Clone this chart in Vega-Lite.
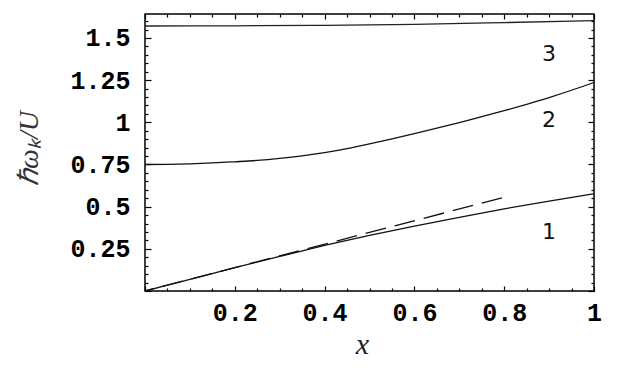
{
  "$schema": "https://vega.github.io/schema/vega-lite/v6.json",
  "width": 449,
  "height": 277,
  "autosize": {"type": "none"},
  "padding": {"left": 145, "top": 14, "right": 28, "bottom": 79},
  "background": "white",
  "config": {
    "view": {"stroke": "black", "strokeWidth": 1.5},
    "axis": {"grid": false, "domain": false, "tickColor": "black", "tickWidth": 1.2, "title": null}
  },
  "datasets": {
    "curves": [
      {"x": 0, "y": 0, "mode": "1"},
      {"x": 0.1, "y": 0.069, "mode": "1"},
      {"x": 0.2, "y": 0.138, "mode": "1"},
      {"x": 0.3, "y": 0.205, "mode": "1"},
      {"x": 0.4, "y": 0.27, "mode": "1"},
      {"x": 0.5, "y": 0.33, "mode": "1"},
      {"x": 0.6, "y": 0.385, "mode": "1"},
      {"x": 0.7, "y": 0.437, "mode": "1"},
      {"x": 0.8, "y": 0.487, "mode": "1"},
      {"x": 0.9, "y": 0.533, "mode": "1"},
      {"x": 1.0, "y": 0.576, "mode": "1"},
      {"x": 0, "y": 0.75, "mode": "2"},
      {"x": 0.05, "y": 0.751, "mode": "2"},
      {"x": 0.1, "y": 0.754, "mode": "2"},
      {"x": 0.15, "y": 0.759, "mode": "2"},
      {"x": 0.2, "y": 0.766, "mode": "2"},
      {"x": 0.25, "y": 0.774, "mode": "2"},
      {"x": 0.3, "y": 0.786, "mode": "2"},
      {"x": 0.35, "y": 0.801, "mode": "2"},
      {"x": 0.4, "y": 0.82, "mode": "2"},
      {"x": 0.45, "y": 0.844, "mode": "2"},
      {"x": 0.5, "y": 0.872, "mode": "2"},
      {"x": 0.55, "y": 0.902, "mode": "2"},
      {"x": 0.6, "y": 0.933, "mode": "2"},
      {"x": 0.65, "y": 0.965, "mode": "2"},
      {"x": 0.7, "y": 0.998, "mode": "2"},
      {"x": 0.75, "y": 1.033, "mode": "2"},
      {"x": 0.8, "y": 1.069, "mode": "2"},
      {"x": 0.85, "y": 1.107, "mode": "2"},
      {"x": 0.9, "y": 1.147, "mode": "2"},
      {"x": 0.95, "y": 1.19, "mode": "2"},
      {"x": 1.0, "y": 1.236, "mode": "2"},
      {"x": 0, "y": 1.571, "mode": "3"},
      {"x": 0.2, "y": 1.572, "mode": "3"},
      {"x": 0.4, "y": 1.575, "mode": "3"},
      {"x": 0.6, "y": 1.581, "mode": "3"},
      {"x": 0.8, "y": 1.591, "mode": "3"},
      {"x": 1.0, "y": 1.603, "mode": "3"}
    ],
    "asym": [
      {"x": 0, "y": 0},
      {"x": 0.795, "y": 0.552}
    ],
    "labels": [
      {"label": "1", "x": 0.9, "y": 0.35},
      {"label": "2", "x": 0.9, "y": 1.011},
      {"label": "3", "x": 0.9, "y": 1.405}
    ]
  },
  "resolve": {"axis": {"x": "independent", "y": "independent"}},
  "layer": [
    {
      "data": {"name": "curves"},
      "transform": [{"filter": "datum.mode != '3'"}],
      "mark": {"type": "line", "color": "#111", "strokeWidth": 1.3, "interpolate": "monotone"},
      "encoding": {
        "x": {
          "field": "x", "type": "quantitative",
          "scale": {"domain": [0, 1], "nice": false, "zero": false},
          "axis": {
            "orient": "bottom",
            "values": [0, 0.2, 0.4, 0.6, 0.8, 1],
            "labelExpr": "datum.value == 0 ? '' : format(datum.value, '~g')",
            "offset": -5,
            "tickSize": 5,
            "labelPadding": 9,
            "labelFlush": false,
            "labelOverlap": false,
            "labelFont": "Liberation Mono",
            "labelFontWeight": "bold",
            "labelFontSize": 25,
            "labelColor": "black",
            "title": "x",
            "titleFont": "Liberation Serif",
            "titleFontStyle": "italic",
            "titleFontWeight": "normal",
            "titleFontSize": 30,
            "titleColor": "#222",
            "titleX": 217,
            "titleY": 67,
            "titleBaseline": "alphabetic",
            "titleAlign": "center"
          }
        },
        "y": {
          "field": "y", "type": "quantitative",
          "scale": {"domain": [0, 1.642], "nice": false, "zero": false},
          "axis": {
            "orient": "left",
            "values": [0, 0.25, 0.5, 0.75, 1, 1.25, 1.5],
            "labelExpr": "datum.value == 0 ? '' : format(datum.value, '~g')",
            "offset": -6,
            "tickSize": 6,
            "labelPadding": 15,
            "labelFlush": false,
            "labelOverlap": false,
            "labelBaseline": "middle",
            "labelFont": "Liberation Mono",
            "labelFontWeight": "bold",
            "labelFontSize": 25,
            "labelColor": "black",
            "title": "ℏωₖ/U",
            "titleFont": "Liberation Serif",
            "titleFontStyle": "italic",
            "titleFontWeight": "normal",
            "titleFontSize": 28,
            "titleColor": "#333",
            "titleX": -122,
            "titleY": 134,
            "titleAngle": 270,
            "titleBaseline": "middle",
            "titleAlign": "center"
          }
        },
        "detail": {"field": "mode", "type": "nominal"}
      }
    },
    {
      "data": {"name": "asym"},
      "mark": {"type": "line", "color": "#111", "strokeWidth": 1.3, "strokeDash": [21, 9], "strokeDashOffset": 12},
      "encoding": {
        "x": {
          "field": "x", "type": "quantitative",
          "axis": {
            "orient": "bottom",
            "values": [0.05, 0.1, 0.15, 0.25, 0.3, 0.35, 0.45, 0.5, 0.55, 0.65, 0.7, 0.75, 0.85, 0.9, 0.95],
            "labels": false,
            "offset": -3,
            "tickSize": 3
          }
        },
        "y": {
          "field": "y", "type": "quantitative",
          "axis": {
            "orient": "left",
            "values": [0.05, 0.1, 0.15, 0.2, 0.3, 0.35, 0.4, 0.45, 0.55, 0.6, 0.65, 0.7, 0.8, 0.85, 0.9, 0.95, 1.05, 1.1, 1.15, 1.2, 1.3, 1.35, 1.4, 1.45, 1.55, 1.6],
            "labels": false,
            "offset": -3,
            "tickSize": 3
          }
        }
      }
    },
    {
      "data": {"name": "labels"},
      "mark": {"type": "text", "font": "DejaVu Sans", "fontSize": 22, "color": "#111", "align": "center", "baseline": "middle"},
      "encoding": {
        "x": {
          "field": "x", "type": "quantitative",
          "axis": {"orient": "top", "values": [0, 0.2, 0.4, 0.6, 0.8, 1], "labels": false, "offset": -5, "tickSize": 5}
        },
        "y": {
          "field": "y", "type": "quantitative",
          "axis": {"orient": "right", "values": [0, 0.25, 0.5, 0.75, 1, 1.25, 1.5], "labels": false, "offset": -6, "tickSize": 6}
        },
        "text": {"field": "label", "type": "nominal"}
      }
    },
    {
      "data": {"name": "curves"},
      "transform": [{"filter": "datum.mode == '3'"}],
      "mark": {"type": "line", "color": "#222", "strokeWidth": 1.3, "interpolate": "monotone"},
      "encoding": {
        "x": {
          "field": "x", "type": "quantitative",
          "axis": {
            "orient": "top",
            "values": [0.05, 0.1, 0.15, 0.25, 0.3, 0.35, 0.45, 0.5, 0.55, 0.65, 0.7, 0.75, 0.85, 0.9, 0.95],
            "labels": false,
            "offset": -3,
            "tickSize": 3
          }
        },
        "y": {
          "field": "y", "type": "quantitative",
          "axis": {
            "orient": "right",
            "values": [0.05, 0.1, 0.15, 0.2, 0.3, 0.35, 0.4, 0.45, 0.55, 0.6, 0.65, 0.7, 0.8, 0.85, 0.9, 0.95, 1.05, 1.1, 1.15, 1.2, 1.3, 1.35, 1.4, 1.45, 1.55, 1.6],
            "labels": false,
            "offset": -3,
            "tickSize": 3
          }
        }
      }
    }
  ]
}
